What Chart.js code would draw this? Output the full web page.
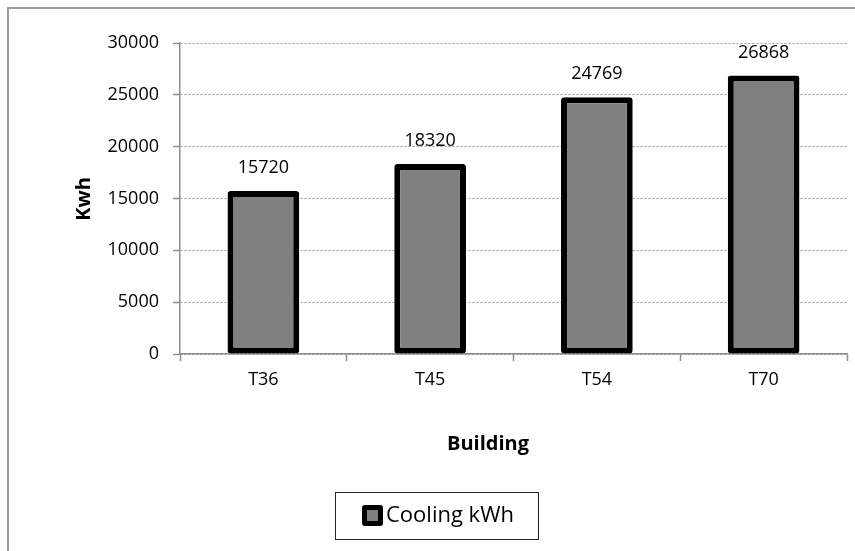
<!DOCTYPE html>
<html>
<head>
<meta charset="utf-8">
<script src="https://cdn.jsdelivr.net/npm/chart.js@4.4.0/dist/chart.umd.min.js"></script>
<style>
  body{margin:0;background:#fff}
  #wrap{width:855px;height:551px;position:relative}
</style>
</head>
<body>
<div id="wrap"><canvas id="chart"></canvas></div>
<script>
const buildings = ['T36', 'T45', 'T54', 'T70'];
const coolingKwh = [15720, 18320, 24769, 26868];
const seriesName = 'Cooling kWh';
const yMax = 30000;
const yStep = 5000;
const xTitle = 'Building';
const yTitle = 'Kwh';

const FONT = '"Open Sans", Lato, sans-serif';

// grey frame round the whole chart (only left and top edges are visible)
const frame = {
  id: 'frame',
  beforeDraw(chart) {
    const c = chart.ctx;
    c.save();
    c.strokeStyle = '#9a9a9a';
    c.lineWidth = 2;
    c.beginPath();
    c.moveTo(8, 560);
    c.lineTo(8, 8);
    c.lineTo(870, 8);
    c.stroke();
    c.restore();
  }
};

// numbers above each bar
const valueLabels = {
  id: 'valueLabels',
  afterDatasetsDraw(chart) {
    const c = chart.ctx;
    const meta = chart.getDatasetMeta(0);
    c.save();
    c.font = '18px ' + FONT;
    c.fillStyle = '#000';
    c.textAlign = 'center';
    c.textBaseline = 'middle';
    meta.data.forEach((bar, i) => {
      c.fillText(String(coolingKwh[i]), bar.x, bar.y - 23);
    });
    c.restore();
  }
};

// axis titles and the boxed legend
const extras = {
  id: 'extras',
  afterDraw(chart) {
    const c = chart.ctx;
    c.save();
    c.fillStyle = '#000';
    c.font = 'bold 20px ' + FONT;
    c.textAlign = 'center';
    c.textBaseline = 'middle';
    c.fillText(xTitle, 488, 444);
    c.save();
    c.translate(84, 199);
    c.rotate(-Math.PI / 2);
    c.fillText(yTitle, 0, 0);
    c.restore();

    // legend
    c.strokeStyle = '#222';
    c.lineWidth = 1;
    c.strokeRect(335.5, 492.5, 203, 47);
    c.fillStyle = '#000';
    c.beginPath();
    c.roundRect(362, 505, 21, 21, 3);
    c.fill();
    c.fillStyle = '#808080';
    c.fillRect(367, 510, 11, 11);
    c.fillStyle = '#000';
    c.font = '22px ' + FONT;
    c.textAlign = 'left';
    c.fillText(seriesName, 386, 516);
    c.restore();
  }
};

new Chart(document.getElementById('chart'), {
  type: 'bar',
  data: {
    labels: buildings,
    datasets: [{
      label: seriesName,
      data: coolingKwh,
      backgroundColor: '#808080',
      borderColor: '#000',
      borderWidth: 6,
      borderRadius: 3,
      borderSkipped: false,
      barPercentage: 0.43,
      categoryPercentage: 1
    }]
  },
  options: {
    responsive: true,
    maintainAspectRatio: false,
    animation: false,
    layout: { padding: { left: 0, top: 43, right: 8, bottom: 0 } },
    plugins: {
      legend: { display: false },
      tooltip: { enabled: false }
    },
    scales: {
      x: {
        afterFit(s) { s.height = 197; },
        grid: {
          drawOnChartArea: false,
          tickLength: 7,
          tickColor: '#8c8c8c',
          tickWidth: 1.5
        },
        border: { color: '#8c8c8c', width: 1.5 },
        ticks: { color: '#000', font: { family: FONT, size: 18 }, padding: 8 }
      },
      y: {
        min: 0,
        max: yMax,
        afterFit(s) { s.width = 180; },
        grid: {
          color: '#999',
          lineWidth: 1,
          tickLength: 7,
          tickColor: '#8c8c8c',
          tickWidth: 1.5
        },
        border: { color: '#8c8c8c', width: 1.5, dash: [2, 2] },
        ticks: {
          stepSize: yStep,
          color: '#000',
          font: { family: FONT, size: 18 },
          padding: 14,
          callback: v => String(v)
        }
      }
    }
  },
  plugins: [frame, valueLabels, extras]
});
</script>
</body>
</html>
